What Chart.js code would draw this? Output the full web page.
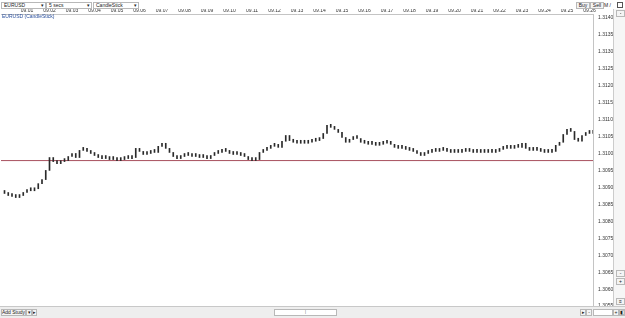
<!DOCTYPE html>
<html>
<head>
<meta charset="utf-8">
<script src="https://cdn.jsdelivr.net/npm/chart.js@4"></script>
<style>
  body { margin: 0; width: 625px; height: 318px; background: #fff; overflow: hidden;
         font-family: "Liberation Sans", Arial, sans-serif; font-size: 5px; color: #222; position: relative; }
  .box { position: absolute; border: 1px solid #b8b8b8; background: #fff; height: 5px; line-height: 5px; padding-left: 2px; white-space: nowrap; }
  .arrow { position: absolute; right: 1px; top: 0; font-size: 5px; }
  .btn { position: absolute; border: 1px solid #b8b8b8; background: #f4f4f4; height: 5px; line-height: 5px; text-align: center; white-space: nowrap; overflow: hidden; }
  #wrap { position: absolute; left: 0; top: 0; width: 613px; height: 307px; }
  #title { position: absolute; left: 2px; top: 13px; color: #2a4f9c; font-size: 5px; }
  #vscroll { position: absolute; left: 613px; top: 9px; width: 11px; height: 297px; background: #f6f6f6; border-left: 1px solid #ccc; }
  #bottom { position: absolute; left: 0; top: 306px; width: 625px; height: 12px; background: #eee; border-top: 1px solid #c8c8c8; }
</style>
</head>
<body>
<!-- thanh công cụ phía trên -->
<div class="box" style="left:1px;top:2px;width:41px;">EURUSD<span class="arrow">▾</span></div>
<div class="box" style="left:46px;top:2px;width:42px;">5 secs<span class="arrow">▾</span></div>
<div class="box" style="left:93px;top:2px;width:42px;">CandleStick<span class="arrow">▾</span></div>
<div class="btn" style="left:576px;top:2px;width:12px;">Buy</div>
<div class="btn" style="left:590px;top:2px;width:12px;">Sell</div>
<div style="position:absolute;left:604px;top:2px;white-space:nowrap;">M /</div>
<div style="position:absolute;left:617px;top:2px;width:4px;height:4px;border:1px solid #555;"></div>

<div id="wrap"><canvas id="chart"></canvas></div>
<div id="title">EURUSD (CandleStick)</div>

<!-- thanh cuộn bên phải -->
<div id="vscroll">
  <div class="btn" style="left:2px;top:1px;width:7px;">-</div>
  <div class="btn" style="left:2px;top:261px;width:7px;">-</div>
  <div class="btn" style="left:2px;top:269px;width:7px;">+</div>
  <div class="btn" style="left:2px;top:289px;width:7px;">≡</div>
</div>

<!-- thanh dưới cùng -->
<div id="bottom">
  <div class="btn" style="left:1px;top:2px;width:23px;">Add Study</div>
  <div class="btn" style="left:26px;top:2px;width:4px;">▾</div>
  <div class="btn" style="left:32px;top:2px;width:3px;">▸</div>
  <div class="btn" style="left:274px;top:2px;width:61px;background:#fff;">⁞</div>
  <div class="btn" style="left:580px;top:2px;width:4px;">▸</div>
  <div class="btn" style="left:586px;top:2px;width:4px;">-</div>
  <div class="btn" style="left:593px;top:2px;width:18px;background:#fff;"></div>
  <div class="btn" style="left:613px;top:2px;width:4px;">+</div>
  <div class="btn" style="left:619px;top:2px;width:4px;">◧</div>
</div>

<script>
/* Dữ liệu: giá đóng cửa mỗi 10 giây, bắt đầu từ 09:00:00 */
var startMinute = 0; // phút đầu tiên sau 09:00
var stepSeconds = 10;
var closes = [
  1.30882, 1.30876, 1.30873, 1.30870, 1.30876, 1.30885, 1.30893, 1.30890, 1.30896, 1.30911, 1.30923,
  1.30950, 1.30988, 1.30976, 1.30970, 1.30976, 1.30979, 1.30991, 1.31000, 1.30988, 1.31009,
  1.31015, 1.31006, 1.31000, 1.30994, 1.30988, 1.30985, 1.30985, 1.30982, 1.30982, 1.30979,
  1.30982, 1.30985, 1.30985, 1.30988, 1.31015, 1.31006, 1.30997, 1.31000, 1.31003, 1.31003,
  1.31021, 1.31030, 1.31015, 1.31003, 1.30991, 1.30985, 1.30991, 1.30994, 1.30994, 1.30991,
  1.30991, 1.30988, 1.30988, 1.30985, 1.30994, 1.31000, 1.31003, 1.31006, 1.31009, 1.31000,
  1.30997, 1.30997, 1.30994, 1.30991, 1.30982, 1.30979, 1.30982, 1.31003, 1.31009, 1.31015,
  1.31021, 1.31021, 1.31018, 1.31036, 1.31053, 1.31038, 1.31033, 1.31030, 1.31030, 1.31030,
  1.31033, 1.31036, 1.31038, 1.31044, 1.31059, 1.31083, 1.31077, 1.31071, 1.31062, 1.31047,
  1.31033, 1.31041, 1.31047, 1.31044, 1.31033, 1.31030, 1.31027, 1.31027, 1.31024, 1.31027,
  1.31030, 1.31030, 1.31027, 1.31018, 1.31015, 1.31015, 1.31012, 1.31009, 1.31006, 1.31000,
  1.30994, 1.31000, 1.31003, 1.31006, 1.31006, 1.31009, 1.31015, 1.31006, 1.31003, 1.31003,
  1.31003, 1.31006, 1.31012, 1.31006, 1.31003, 1.31003, 1.31003, 1.31006, 1.31003, 1.31003,
  1.31006, 1.31012, 1.31015, 1.31015, 1.31015, 1.31018, 1.31018, 1.31030, 1.31015, 1.31009,
  1.31009, 1.31009, 1.31006, 1.31003, 1.31003, 1.31006, 1.31024, 1.31033, 1.31056, 1.31071,
  1.31065, 1.31041, 1.31036, 1.31053, 1.31059, 1.31062, 1.31059
];
var levelPrice = 1.30979; // đường ngang màu đỏ
var timeTicks = [1, 2, 3, 4, 5, 6, 7, 8, 9, 10, 11, 12, 13, 14, 15, 16, 17, 18, 19, 20, 21, 22, 23, 24, 25, 26];
var priceTicks = [1.3055, 1.3060, 1.3065, 1.3070, 1.3075, 1.3080, 1.3085, 1.3090, 1.3095,
                  1.3100, 1.3105, 1.3110, 1.3115, 1.3120, 1.3125, 1.3130, 1.3135, 1.3140];

// nến: mở cửa = giá đóng cửa của nến trước
var candles = closes.map(function (c, i) {
  var open = i > 0 ? closes[i - 1] : c;
  return { x: startMinute + (i * stepSeconds) / 60, y: [open, c] };
});

var xMin = -0.1556, xMax = 26.156;
var font = { family: "Liberation Sans, Arial", size: 5 };

var ctx = document.getElementById("chart").getContext("2d");
var myChart = new Chart(ctx, {
  type: "bar",
  data: {
    datasets: [
      {
        type: "bar",
        data: candles,
        backgroundColor: "#2a2a2a",
        borderWidth: 0,
        barThickness: 1,
        minBarLength: 3,
        grouped: false,
      },
      {
        type: "line",
        data: [{ x: xMin, y: levelPrice }, { x: xMax, y: levelPrice }],
        borderColor: "#a8505e",
        borderWidth: 1,
        pointRadius: 0,
      },
    ],
  },
  options: {
    responsive: true,
    maintainAspectRatio: false,
    animation: false,
    layout: { padding: { top: 9, left: 1, right: 0, bottom: 0 } },
    plugins: { legend: { display: false }, tooltip: { enabled: false } },
    scales: {
      x: {
        type: "linear",
        position: "top",
        offset: false,
        min: xMin,
        max: xMax,
        afterFit: function (scale) {
          scale.height = 5;
          scale.paddingLeft = 0;
          scale.paddingRight = 0;
        },
        afterBuildTicks: function (scale) {
          scale.ticks = timeTicks.map(function (v) { return { value: v }; });
        },
        ticks: {
          font: font,
          color: "#333",
          padding: 0,
          maxRotation: 0,
          autoSkip: false,
          callback: function (v) { return "09." + (v < 10 ? "0" + v : v); },
        },
        grid: { display: false, drawTicks: false },
        border: { display: true, color: "#c4c4c4" },
      },
      y: {
        position: "right",
        min: 1.305473,
        max: 1.314112,
        afterFit: function (scale) {
          scale.width = 20;
          scale.paddingTop = 0;
          scale.paddingBottom = 0;
        },
        afterBuildTicks: function (scale) {
          scale.ticks = priceTicks.map(function (v) { return { value: v }; });
        },
        ticks: {
          font: font,
          color: "#333",
          padding: 5,
          callback: function (v) { return v.toFixed(4); },
        },
        grid: { display: false, drawTicks: false },
        border: { display: true, color: "#c4c4c4" },
      },
    },
  },
});
</script>
</body>
</html>
